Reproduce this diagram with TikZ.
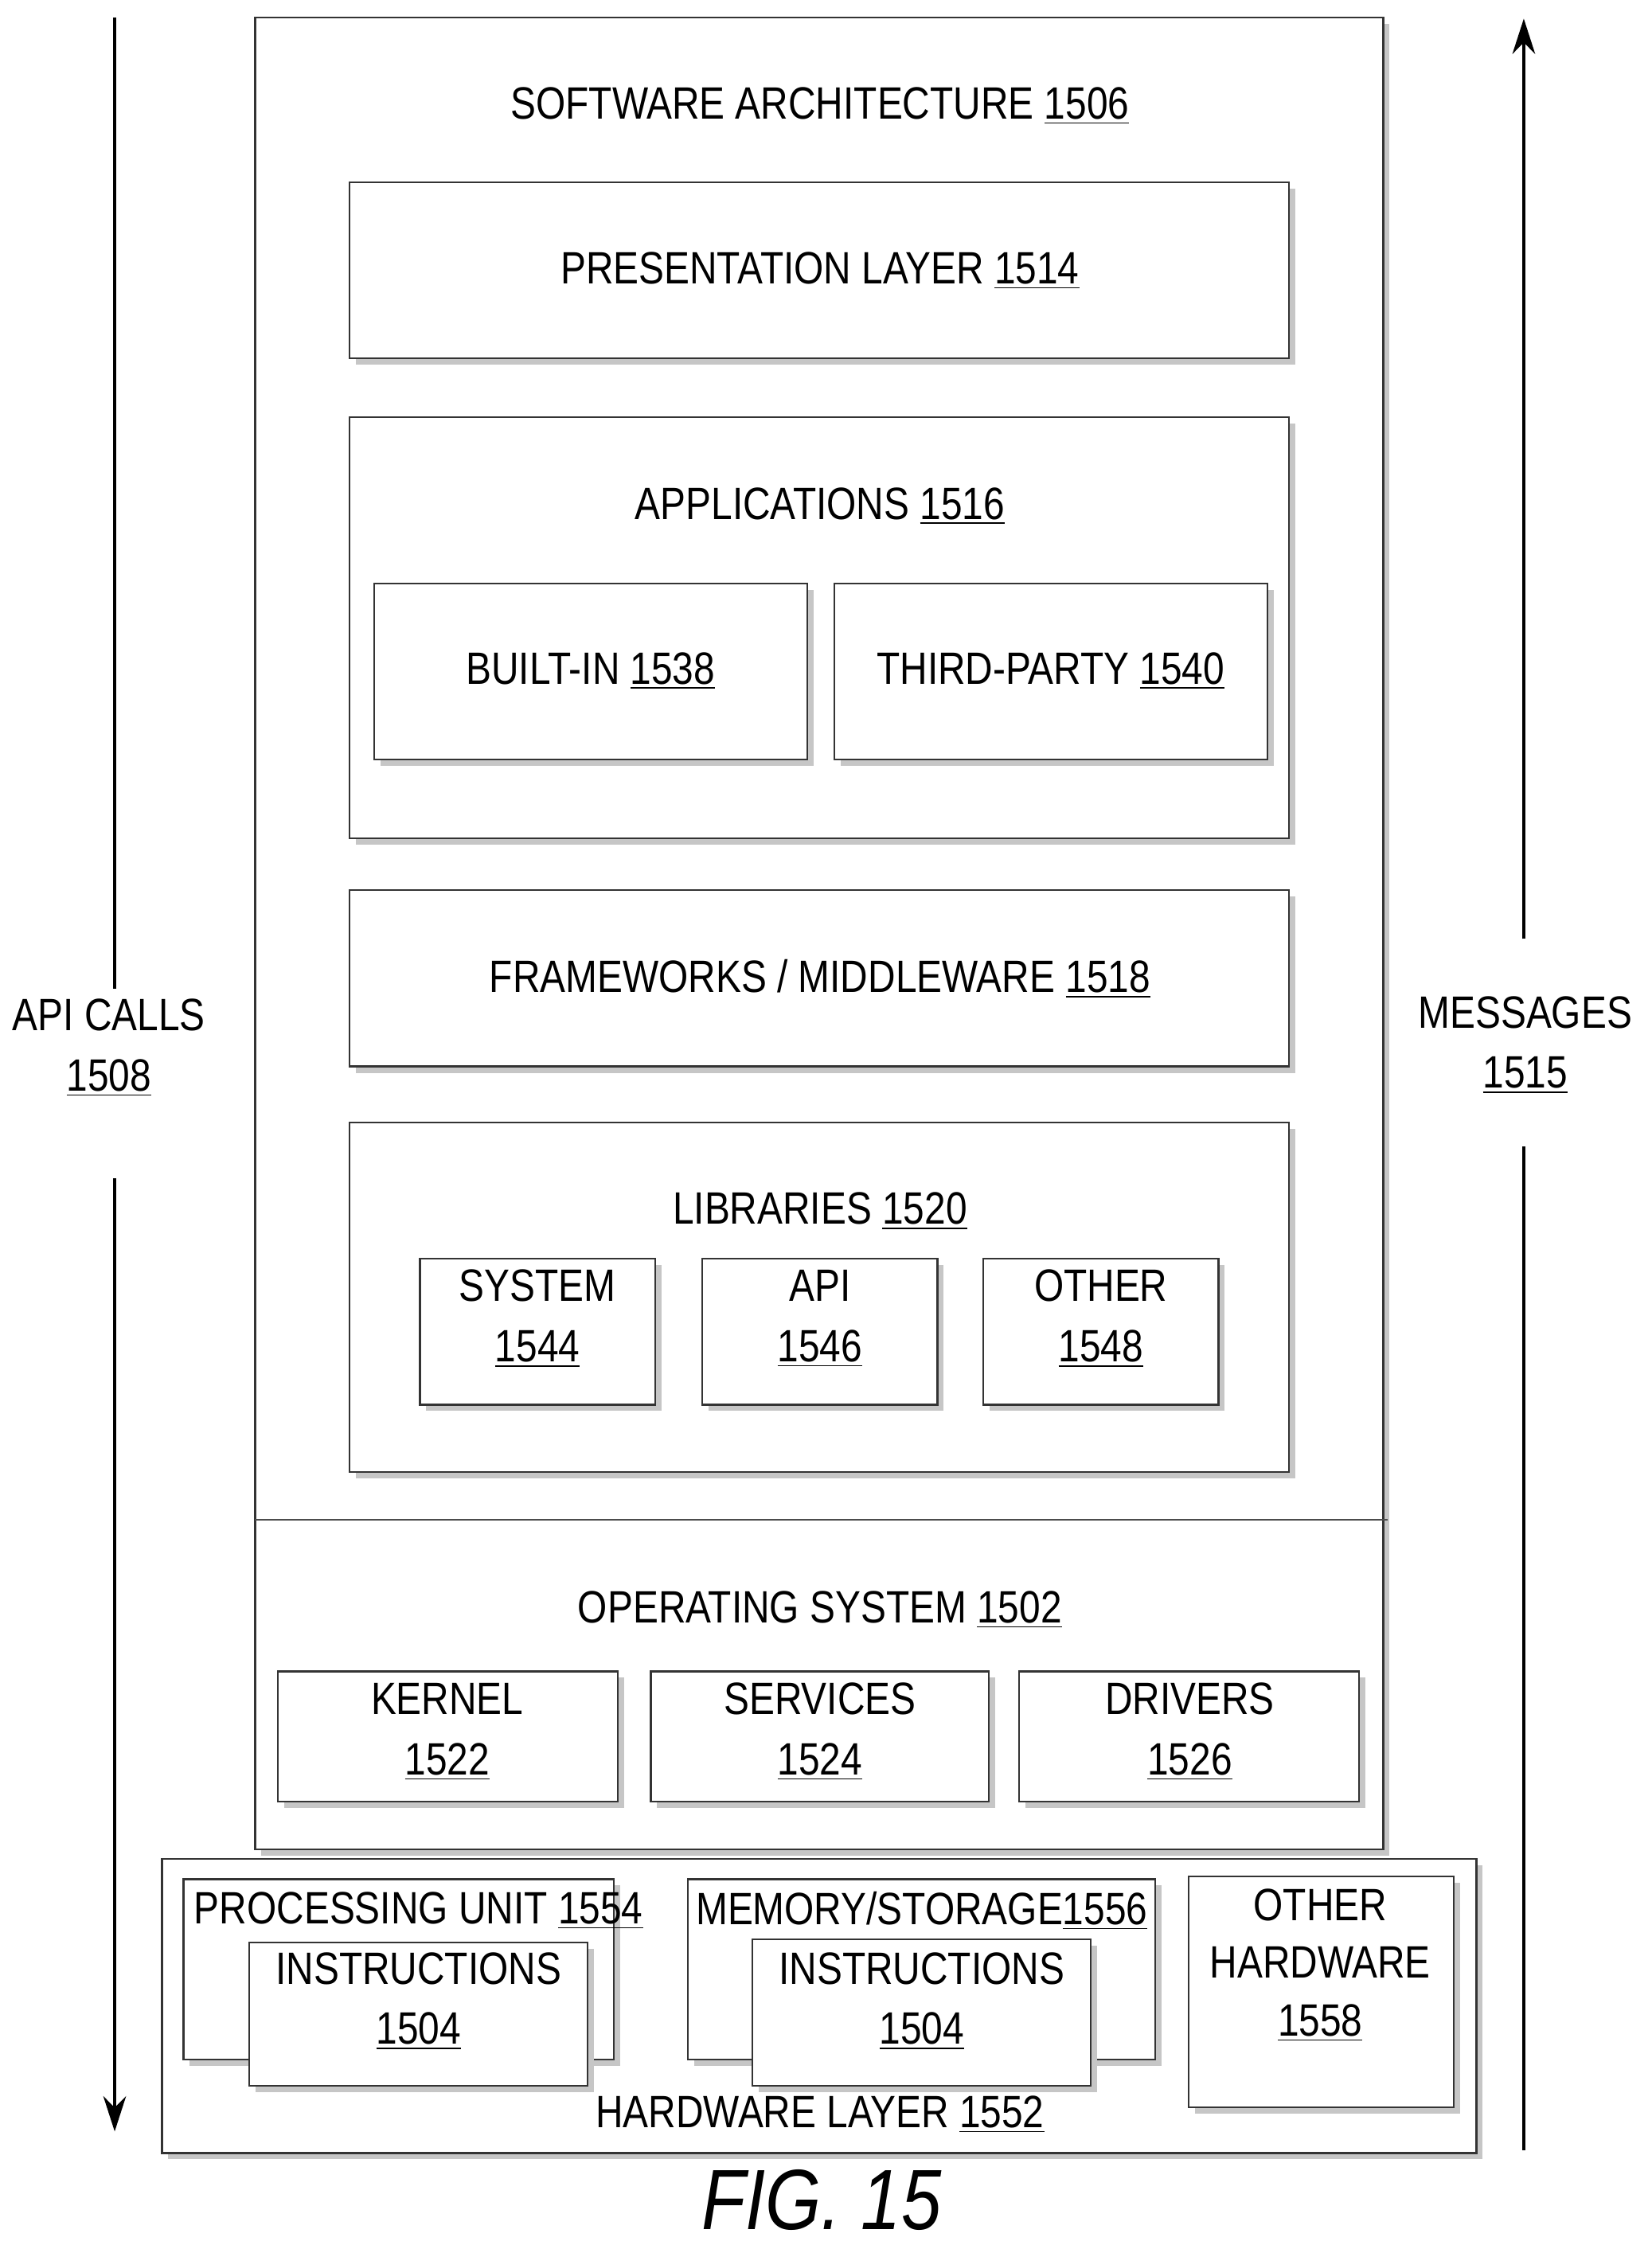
\documentclass[tikz,border=0pt]{standalone}
\usepackage{fontspec}
\setmainfont{Liberation Sans}[FakeStretch=0.84]
\usetikzlibrary{shadows,arrows.meta}
\newcommand{\ul}[1]{\underline{#1}}
\newcommand{\bx}[5]{\node[box,minimum width={(#4-#2)*0.02cm},minimum height={(#5-#3)*0.02cm}] (#1) at ({(#2+#4)/2},{(#3+#5)/2}) {};}
\begin{document}
\begin{tikzpicture}[x=0.02cm,y=-0.02cm,
  box/.style={draw=black!80,line width=0.7pt,fill=white,inner sep=0pt,
    drop shadow={shadow xshift=2.5pt,shadow yshift=-2.5pt,fill=gray!45,opacity=1}},
  lab/.style={font=\fontsize{18}{22}\selectfont,align=center,inner sep=0pt},
  arr/.style={line width=1.4pt,-{Stealth[length=14pt,width=9pt]}}]
\useasboundingbox (0,0) rectangle (1152,1569);
\bx{sa}{178}{12}{965}{1290}
\draw[black!70,line width=0.6pt] (178,1060) -- (968,1060);
\node[lab] (tsa) at (572,74) {SOFTWARE ARCHITECTURE \ul{1506}};
\bx{pl}{244}{127}{899}{250}
\node[lab] (tpl) at (572,189) {PRESENTATION LAYER \ul{1514}};
\bx{ap}{244}{291}{899}{585}
\node[lab] (tap) at (572,353) {APPLICATIONS \ul{1516}};
\bx{bi}{261}{407}{563}{530}
\node[lab] (tbi) at (412,468) {BUILT-IN \ul{1538}};
\bx{tp}{582}{407}{884}{530}
\node[lab] (ttp) at (733,468) {THIRD-PARTY \ul{1540}};
\bx{fw}{244}{621}{899}{744}
\node[lab] (tfw) at (572,683) {FRAMEWORKS / MIDDLEWARE \ul{1518}};
\bx{li}{244}{783}{899}{1027}
\node[lab] (tli) at (572,845) {LIBRARIES \ul{1520}};
\bx{sy}{293}{878}{457}{980}
\node[lab] (tsy) at (375,920) {SYSTEM\\[2pt]\ul{1544}};
\bx{api}{490}{878}{654}{980}
\node[lab] (tapi) at (572,920) {API\\[2pt]\ul{1546}};
\bx{ot}{686}{878}{850}{980}
\node[lab] (tot) at (768,920) {OTHER\\[2pt]\ul{1548}};
\node[lab] (tos) at (572,1123) {OPERATING SYSTEM \ul{1502}};
\bx{ke}{194}{1166}{431}{1257}
\node[lab] (tke) at (312,1208) {KERNEL\\[2pt]\ul{1522}};
\bx{se}{454}{1166}{690}{1257}
\node[lab] (tse) at (572,1208) {SERVICES\\[2pt]\ul{1524}};
\bx{dr}{711}{1166}{948}{1257}
\node[lab] (tdr) at (830,1208) {DRIVERS\\[2pt]\ul{1526}};
\bx{hw}{113}{1297}{1030}{1502}
\bx{pu}{128}{1311}{428}{1437}
\node[lab] (tpu) at (292,1333) {PROCESSING UNIT \ul{1554}};
\bx{i1}{174}{1355}{410}{1455}
\node[lab] (ti1) at (292,1396) {INSTRUCTIONS\\[2pt]\ul{1504}};
\bx{ms}{480}{1311}{806}{1437}
\node[lab] (tms) at (643,1333) {MEMORY/STORAGE\ul{1556}};
\bx{i2}{525}{1353}{761}{1455}
\node[lab] (ti2) at (643,1396) {INSTRUCTIONS\\[2pt]\ul{1504}};
\bx{oh}{829}{1309}{1014}{1470}
\node[lab] (toh) at (921,1371) {OTHER\\[1pt]HARDWARE\\[1pt]\ul{1558}};
\node[lab] (thw) at (572,1475) {HARDWARE LAYER \ul{1552}};
\node[lab] (tac) at (76,731) {API CALLS\\[2pt]\ul{1508}};
\node[lab] (tmsg) at (1064,729) {MESSAGES\\[2pt]\ul{1515}};
\coordinate (a1) at (80,12); \coordinate (a2) at (80,690);
\coordinate (a3) at (80,822); \coordinate (a4) at (80,1487);
\draw[line width=1.4pt] (a1) -- (a2);
\draw[arr] (a3) -- (a4);
\coordinate (b1) at (1063,1500); \coordinate (b2) at (1063,800);
\coordinate (b3) at (1063,655); \coordinate (b4) at (1063,13);
\draw[line width=1.4pt] (b1) -- (b2);
\draw[arr] (b3) -- (b4);
\node[inner sep=0pt,font=\fontsize{34}{40}\selectfont\itshape] (fig) at (573,1535) {FIG. 15};
\end{tikzpicture}
\end{document}
